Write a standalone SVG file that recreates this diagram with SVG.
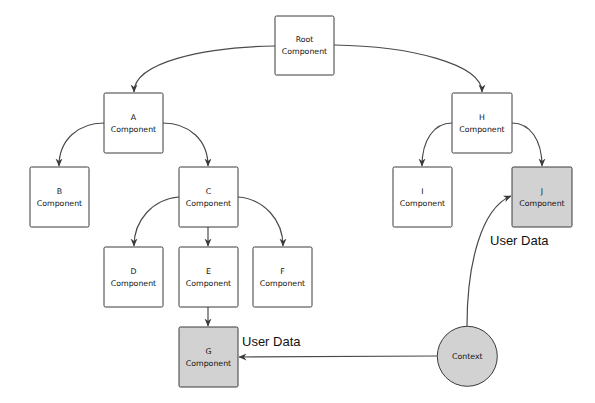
<svg xmlns="http://www.w3.org/2000/svg" width="595" height="403" viewBox="0 0 595 403">
<style>
.box{fill:#fff;stroke:#3a3a3a;stroke-width:1}
.gray{fill:#d3d2d2}
.lbl{font-family:"DejaVu Sans",sans-serif;font-size:7.8px;fill:#111;text-anchor:middle}
.ud{font-family:"Liberation Sans",Arial,sans-serif;font-size:13px;fill:#111}
.edge{fill:none;stroke:#4a4a4a;stroke-width:1.2}
</style>
<defs>
<marker id="arr" viewBox="0 0 8 8" refX="7.5" refY="4" markerWidth="8" markerHeight="8" markerUnits="userSpaceOnUse" orient="auto">
<path d="M0,0.5 L8,4 L0,7.5 L2.5,4 z" fill="#3a3a3a"/>
</marker>
</defs>
<rect width="595" height="403" fill="#fff"/>
<g id="connectors">
<path class="edge" marker-end="url(#arr)" d="M275,46 C205,47 134,62 134,92"/>
<path class="edge" marker-end="url(#arr)" d="M334,45 C410,46 482,64 482,92"/>
<path class="edge" marker-end="url(#arr)" d="M104,123 C78,123 59,140 59,166"/>
<path class="edge" marker-end="url(#arr)" d="M163,123 C189,123 208,140 208,166"/>
<path class="edge" marker-end="url(#arr)" d="M452,123 C434,123 422,140 422,166"/>
<path class="edge" marker-end="url(#arr)" d="M512,123 C530,123 542,140 542,166"/>
<path class="edge" marker-end="url(#arr)" d="M179,197 C153,199 134,220 134,246"/>
<path class="edge" marker-end="url(#arr)" d="M208,227 L208,246"/>
<path class="edge" marker-end="url(#arr)" d="M238,197 C264,199 283,220 283,246"/>
<path class="edge" marker-end="url(#arr)" d="M208,307 L208,326"/>
<path class="edge" marker-end="url(#arr)" d="M437,356 L239,357"/>
<path class="edge" marker-end="url(#arr)" d="M467,326 C467,262 482,208 511,196"/>
</g>
<g id="root"><rect class="box" x="275" y="16" width="59" height="59" rx="1.5"/><text class="lbl" x="304.5" y="42">Root</text><text class="lbl" x="304.5" y="54">Component</text></g>
<g id="a"><rect class="box" x="104" y="93" width="59" height="60" rx="1.5"/><text class="lbl" x="133.5" y="120">A</text><text class="lbl" x="133.5" y="132">Component</text></g>
<g id="h"><rect class="box" x="452" y="93" width="60" height="60" rx="1.5"/><text class="lbl" x="482" y="120">H</text><text class="lbl" x="482" y="132">Component</text></g>
<g id="b"><rect class="box" x="30" y="167" width="59" height="60" rx="1.5"/><text class="lbl" x="59.5" y="194">B</text><text class="lbl" x="59.5" y="206">Component</text></g>
<g id="c"><rect class="box" x="179" y="167" width="59" height="60" rx="1.5"/><text class="lbl" x="208.5" y="194">C</text><text class="lbl" x="208.5" y="206">Component</text></g>
<g id="i"><rect class="box" x="393" y="167" width="59" height="60" rx="1.5"/><text class="lbl" x="422.5" y="194">I</text><text class="lbl" x="422.5" y="206">Component</text></g>
<g id="j"><rect class="box gray" x="512" y="167" width="60" height="60" rx="1.5"/><text class="lbl" x="542" y="194">J</text><text class="lbl" x="542" y="206">Component</text></g>
<g id="d"><rect class="box" x="104" y="247" width="59" height="60" rx="1.5"/><text class="lbl" x="133.5" y="274">D</text><text class="lbl" x="133.5" y="286">Component</text></g>
<g id="e"><rect class="box" x="179" y="247" width="59" height="60" rx="1.5"/><text class="lbl" x="208.5" y="274">E</text><text class="lbl" x="208.5" y="286">Component</text></g>
<g id="f"><rect class="box" x="253" y="247" width="59" height="60" rx="1.5"/><text class="lbl" x="282.5" y="274">F</text><text class="lbl" x="282.5" y="286">Component</text></g>
<g id="g"><rect class="box gray" x="179" y="327" width="59" height="60" rx="1.5"/><text class="lbl" x="208.5" y="354">G</text><text class="lbl" x="208.5" y="366">Component</text></g>
<g id="context"><circle class="box gray" cx="467.3" cy="356.3" r="30"/><text class="lbl" x="467.3" y="359">Context</text></g>
<text class="ud" x="242" y="346">User Data</text>
<text class="ud" x="490" y="245">User Data</text>
</svg>
